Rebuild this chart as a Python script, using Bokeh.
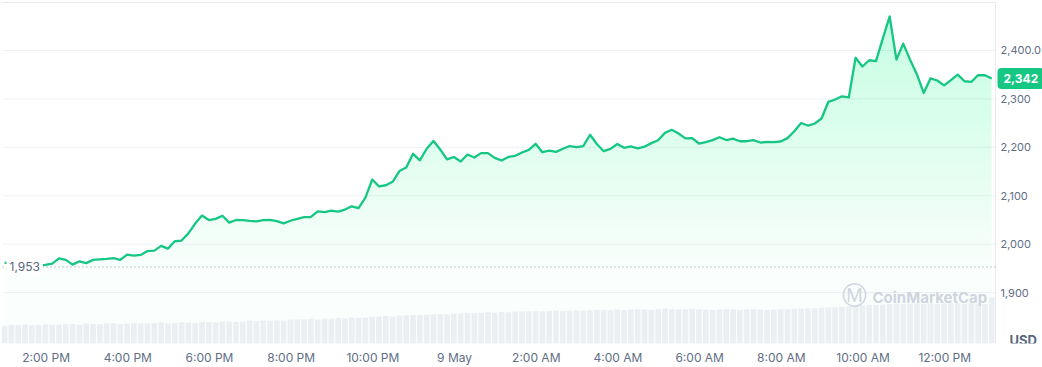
import numpy as np
import pandas as pd
from bokeh.plotting import figure
from bokeh.models import Range1d, FixedTicker, Label
from bokeh.core.properties import value
from bokeh.embed import file_html
from bokeh.resources import INLINE

# ---------------- data ----------------
start_time = "2024-05-08 12:59"
step = "10min"

price = [
    1962, 1960, 1958, 1960, 1958, 1956, 1957.3, 1960.0, 1970.9, 1967.6,
    1957.9, 1964.7, 1961.0, 1967.6, 1968.6, 1969.7, 1971.3, 1967.6, 1978.5, 1976.5,
    1977.9, 1985.8, 1986.8, 1996.5, 1990.9, 2006.1, 2007.5, 2022.3, 2042.6, 2059.1,
    2049.8, 2052.3, 2058.7, 2044.6, 2050.0, 2049.8, 2048.2, 2047.1, 2049.8, 2050.2,
    2047.6, 2043.0, 2048.4, 2052.5, 2056.0, 2056.2, 2067.8, 2066.3, 2069.2, 2067.4,
    2071.5, 2078.3, 2074.4, 2096.3, 2133.5, 2119.4, 2121.7, 2128.9, 2151.0, 2158.3,
    2186.6, 2173.2, 2197.0, 2213.0, 2195.4, 2175.0, 2180.0, 2170.7, 2185.1, 2178.9,
    2188.0, 2188.0, 2178.3, 2172.7, 2180.2, 2182.5, 2189.3, 2194.8, 2207.2, 2189.9,
    2193.2, 2190.7, 2197.1, 2202.7, 2200.6, 2202.5, 2226.0, 2206.8, 2192.0, 2196.9,
    2206.8, 2199.0, 2201.9, 2197.9, 2201.3, 2208.7, 2214.7, 2229.8, 2236.2, 2228.5,
    2218.6, 2219.0, 2207.9, 2210.8, 2214.9, 2220.9, 2215.1, 2218.0, 2212.6, 2212.6,
    2214.7, 2209.9, 2211.0, 2210.8, 2212.0, 2219.0, 2233.1, 2250.2, 2245.0, 2249.2,
    2259.5, 2294.0, 2298.8, 2305.4, 2303.0, 2384.9, 2366.9, 2379.8, 2378.0, 2424.8,
    2470.0, 2381.0, 2414.0, 2381.0, 2351.0, 2312.2, 2342.2, 2338.0, 2328.0, 2338.8,
    2350.0, 2336.4, 2335.0, 2349.2, 2348.8, 2342.0,
]

volume = [
    52, 54, 53, 55, 53, 54, 56, 54, 55,
    56, 57, 55, 58, 57, 56, 58, 59, 57, 58, 60, 59, 58, 60, 61, 59, 60, 62, 61, 60,
    62, 63, 62, 64, 65, 63, 64, 66, 65, 67, 66, 68, 67, 69, 70,
    71, 72, 70, 73, 72, 74, 73, 75, 74, 76,
    78, 79, 80, 79, 81, 82, 83, 82, 84, 85, 86, 85,
    87, 88, 89, 88, 90, 91, 90, 92, 91, 93,
    93, 94, 95, 94, 95, 96, 95, 96, 97, 96, 97, 98,
    98, 97, 99, 98, 99, 100, 99, 98, 100, 101, 100, 99, 100, 101, 100, 99, 98, 99,
    100, 99, 98, 99, 100, 99, 98, 99, 100,
    100, 101, 102, 103, 103, 104, 105,
    106, 107, 108, 109, 110,
    112, 113, 114, 115, 116, 115, 116, 117, 116, 117, 116, 117, 118, 117, 116, 117, 116, 115,
    135,
]

open_price = 1953
y_ticks = [1900, 2000, 2100, 2200, 2300, 2400]
y_tick_labels = ["1,900", "2,000", "2,100", "2,200", "2,300", "2,400.0"]
x_tick_start = "2024-05-08 14:00"
x_tick_labels = ["2:00 PM", "4:00 PM", "6:00 PM", "8:00 PM", "10:00 PM", "9 May",
                 "2:00 AM", "4:00 AM", "6:00 AM", "8:00 AM", "10:00 AM", "12:00 PM"]
currency = "USD"
watermark = "CoinMarketCap"

# chart window (time span and price span of the plotting area)
area_t0 = "2024-05-08 12:56"
area_t1 = "2024-05-09 13:14:30"
area_p0, area_p1 = 1795, 2499

# ---------------- build ----------------
def ms(t):
    return float(pd.Timestamp(t).value // 10**6)

times = pd.date_range(start_time, periods=len(price), freq=step)
tx = np.array([ms(t) for t in times])
price_arr = np.array(price, dtype=float)

W, H = 1042, 367
AREA_L, AREA_R, AREA_T, AREA_B = 2, 995, 2, 343   # plot area inside canvas (px)
t0, t1 = ms(area_t0), ms(area_t1)
px_per_ms = (AREA_R - AREA_L) / (t1 - t0)
px_per_usd = (AREA_B - AREA_T) / (area_p1 - area_p0)
x_lo = t0 - AREA_L / px_per_ms
x_hi = t1 + (W - AREA_R) / px_per_ms
y_lo = area_p0
y_hi = area_p1 + AREA_T / px_per_usd

GREEN = "#16c784"
TEXT = "#616e85"
GRID = "#eff2f5"
EDGE = "#e6e9ee"
MARK = "#cfd4df"

p = figure(width=W, height=H, x_axis_type="datetime", y_axis_location=None,
           output_backend="svg", toolbar_location=None,
           x_range=Range1d(x_lo, x_hi), y_range=Range1d(y_lo, y_hi),
           min_border_left=0, min_border_top=0, min_border_right=0,
           min_border_bottom=H - AREA_B)
p.outline_line_color = None
p.background_fill_color = "white"
p.border_fill_color = "white"
p.xgrid.grid_line_color = None
p.ygrid.grid_line_color = None
p.extra_y_ranges = {"vol": Range1d(0, 1000)}

# grid lines of the price area
p.segment(x0=t0, x1=t1, y0=y_ticks, y1=y_ticks, line_color=GRID, line_width=1)

# gradient-like area fill
p.varea(x=tx, y1=np.full(len(tx), float(area_p0)), y2=price_arr,
        fill_color=GREEN, fill_alpha=0.025)
for lvl in range(1950, 2500, 20):
    p.varea(x=tx, y1=np.full(len(tx), float(lvl)),
            y2=np.maximum(price_arr, lvl), fill_color=GREEN, fill_alpha=0.0095)

# volume bars
bar_w = 8.3 * 60 * 1000
p.vbar(x=tx, top=volume, width=bar_w, bottom=0, y_range_name="vol",
       fill_color="#eceff2", line_color=None)

# frame edges
p.segment(x0=[t0], x1=[t1], y0=[area_p1], y1=[area_p1], line_color=EDGE, line_width=1)
p.segment(x0=[t1], x1=[t1], y0=[area_p0], y1=[area_p1], line_color=EDGE, line_width=1)

# open price dotted line
p.segment(x0=[t0], x1=[t1], y0=[open_price], y1=[open_price], line_color="#8a93a6",
          line_dash="1 3", line_width=1)

# price line
p.line(x=tx, y=price_arr, line_color=GREEN, line_width=2.3, line_join="round")

# price axis labels (right side)
p.text(x=[t1] * len(y_ticks), y=y_ticks, text=y_tick_labels, x_offset=5,
       text_baseline="middle", text_align="left", text_font=value("Inter"),
       text_font_size="11px", text_color=TEXT)

# time axis
tick_times = pd.date_range(x_tick_start, periods=len(x_tick_labels), freq="2h")
xt = [ms(t) for t in tick_times]
p.xaxis.ticker = FixedTicker(ticks=xt)
p.xaxis.major_label_overrides = {int(v): lab for v, lab in zip(xt, x_tick_labels)}
p.xaxis.axis_line_color = None
p.xaxis.major_tick_line_color = None
p.xaxis.minor_tick_line_color = None
p.xaxis.major_tick_out = 0
p.xaxis.major_tick_in = 0
p.xaxis.minor_tick_out = 0
p.xaxis.minor_tick_in = 0
p.xaxis.major_label_standoff = 6
p.xaxis.major_label_text_font = "Inter"
p.xaxis.major_label_text_font_size = "12px"
p.xaxis.major_label_text_color = TEXT

# labels
p.add_layout(Label(x=t0, y=open_price, x_offset=4, text=f"{open_price:,}",
                   text_baseline="middle", text_font="Inter", text_font_size="12px",
                   text_color="#58667e", background_fill_color="white", padding=3))
p.add_layout(Label(x=t1, y=price[-1], x_offset=2, text=f"{price[-1]:,.0f}",
                   text_baseline="middle", text_font="Inter", text_font_size="12px",
                   text_font_style="bold", text_color="white",
                   background_fill_color=GREEN, border_radius=4, padding=6))
p.add_layout(Label(x=t1, y=area_p0, x_offset=14, y_offset=4, text=currency,
                   text_baseline="middle", text_font="Inter", text_font_size="13px",
                   text_font_style="bold", text_color="#58667e"))
p.add_layout(Label(x=t1, y=area_p0, x_offset=-154, y_offset=48, text="\u24c2",
                   text_baseline="middle", text_font="DejaVu Sans", text_font_size="25px",
                   text_color=MARK))
p.add_layout(Label(x=t1, y=area_p0, x_offset=-123, y_offset=46, text=watermark,
                   text_baseline="middle", text_font="Inter", text_font_size="15px",
                   text_font_style="bold", text_color=MARK))

open("out.html", "w").write(file_html(p, INLINE))
